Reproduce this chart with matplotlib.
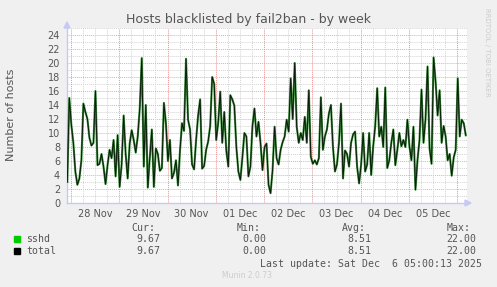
import numpy as np
import matplotlib
matplotlib.use("Agg")
import matplotlib.pyplot as plt

# ---------------- data ----------------
title = "Hosts blacklisted by fail2ban - by week"
ylabel = "Number of hosts"
day_labels = ["28 Nov", "29 Nov", "30 Nov", "01 Dec", "02 Dec", "03 Dec", "04 Dec", "05 Dec"]
start_hour = -25.8   # hours relative to 29 Nov 00:00
step_hours = 1.0
sshd = [
    3.0, 15.0, 11.2, 8.6, 4.5, 2.6, 3.5, 6.1, 14.2, 13.0,
    12.0, 9.3, 8.2, 8.6, 16.0, 5.4, 5.6, 7.0, 5.2, 2.7,
    5.4, 7.6, 6.4, 9.0, 3.8, 9.7, 2.3, 5.5, 12.5, 7.0,
    3.5, 8.5, 10.4, 9.0, 7.2, 9.5, 13.5, 20.7, 5.2, 14.0,
    2.2, 6.5, 10.5, 2.3, 7.8, 7.0, 4.6, 5.0, 14.3, 11.4,
    6.0, 9.0, 3.5, 4.3, 6.1, 2.5, 7.5, 11.4, 10.3, 20.6,
    11.9, 10.5, 5.5, 4.8, 9.0, 12.5, 14.8, 4.9, 5.3, 7.6,
    8.8, 11.0, 18.0, 17.0, 9.0, 11.5, 15.9, 8.6, 13.0, 7.5,
    5.2, 15.4, 14.8, 13.9, 8.0, 4.5, 3.3, 6.5, 10.0, 9.5,
    3.8, 5.2, 11.0, 13.5, 9.5, 11.6, 8.6, 4.7, 8.0, 8.5,
    2.6, 1.4, 4.7, 10.9, 6.4, 5.5, 7.6, 8.7, 9.5, 11.9,
    10.2, 17.8, 12.0, 20.0, 10.9, 8.6, 10.0, 9.0, 12.3, 8.6,
    16.1, 6.6, 5.6, 6.1, 5.5, 6.4, 15.1, 7.6, 9.5, 10.5,
    12.8, 14.0, 8.0, 4.5, 5.5, 8.6, 14.2, 3.5, 7.5, 7.0,
    5.2, 8.6, 9.8, 10.2, 5.2, 2.8, 5.5, 10.0, 4.5, 5.5,
    10.0, 4.0, 8.1, 11.0, 16.4, 9.5, 10.9, 8.0, 16.5, 5.0,
    6.1, 8.6, 10.5, 5.4, 7.6, 10.0, 8.1, 9.0, 8.0, 11.9,
    8.1, 6.1, 10.9, 1.9, 6.1, 9.0, 16.2, 8.6, 12.0, 19.5,
    7.8, 5.6, 20.8, 17.4, 12.5, 16.1, 8.6, 11.0, 9.5, 6.1,
    7.0, 3.9, 6.5, 7.6, 17.8, 9.5, 11.9, 11.4, 9.67,
]
total = list(sshd)
legend_names = ["sshd", "total"]
legend_cur = ["9.67", "9.67"]
legend_min = ["0.00", "0.00"]
legend_avg = ["8.51", "8.51"]
legend_max = ["22.00", "22.00"]
last_update = "Last update: Sat Dec  6 05:00:13 2025"
version = "Munin 2.0.73"
side_text = "RRDTOOL / TOBI OETIKER"

# ---------------- figure ----------------
W, H = 497, 287
fig = plt.figure(figsize=(W / 100, H / 100), dpi=100, facecolor="#f0f0f0")

def px(x, y):
    return x / W, 1 - y / H

L, R, T, B = 67, 467, 28, 203
ax = fig.add_axes([L / W, 1 - B / H, (R - L) / W, (B - T) / H])
ax.set_facecolor("white")

px_per_hour = 48.3 / 24.0
x0 = start_hour - (67.3 - L) / px_per_hour
x1 = x0 + (R - L) / px_per_hour
ax.set_xlim(x0, x1)
ax.set_ylim(0, 25)

t = start_hour + step_hours * np.arange(len(sshd))

# grid
dot = (0, (1.0, 1.0))
for yv in np.arange(1, 26, 1):
    col = "#f0a8a8" if yv % 2 == 0 else "#d4d4d4"
    ax.axhline(yv, color=col, lw=0.7, ls=dot, zorder=1)
for xv in np.arange(-24, 180, 6):
    col = "#f09090" if xv % 24 == 0 else "#d4d4d4"
    ax.axvline(xv, color=col, lw=0.7, ls=dot, zorder=1)

ax.plot(t, sshd, color="#3a8a3a", lw=1.5, zorder=3)
ax.plot(t, total, color="#0a1a0a", lw=0.7, zorder=4)

for s in ["top", "right"]:
    ax.spines[s].set_visible(False)
for s in ["left", "bottom"]:
    ax.spines[s].set_color("#c8c8f4")
    ax.spines[s].set_linewidth(1.0)

ax.set_yticks(np.arange(0, 25, 2))
ax.set_yticklabels([str(v) for v in range(0, 25, 2)])
ax.set_xticks(-12 + 24 * np.arange(len(day_labels)))
ax.set_xticklabels(day_labels)
ax.tick_params(length=0, labelsize=7, colors="#555555", pad=4)
ax.tick_params(axis="y", pad=5)

# arrows
fig.patches.append(matplotlib.patches.Polygon(
    [px(471, 203), px(465, 200), px(465, 206)], closed=True,
    transform=fig.transFigure, color="#c8c8f4", zorder=5))
fig.patches.append(matplotlib.patches.Polygon(
    [px(67, 22), px(64, 28), px(70, 28)], closed=True,
    transform=fig.transFigure, color="#c8c8f4", zorder=5))

# texts
fig.text(*px(249, 19), title, ha="center", va="center", fontsize=9, color="#555555")
fig.text(*px(11, 115), ylabel, ha="center", va="center", rotation=90, fontsize=8, color="#555555")
fig.text(*px(487, 52), side_text, ha="center", va="center", rotation=270, fontsize=5, color="#cccccc")

mono = dict(family="DejaVu Sans Mono", fontsize=7.1, color="#555555", va="center")
headers = ["Cur:", "Min:", "Avg:", "Max:"]
hx = [131, 237, 342, 447]
vx = [160.5, 266.7, 371.7, 476.7]
for h, x in zip(headers, hx):
    fig.text(*px(x, 228), h, ha="left", **mono)
cols = [legend_cur, legend_min, legend_avg, legend_max]
colors = ["#00cc00", "#000000"]
for i, (name, c) in enumerate(zip(legend_names, colors)):
    y = 239 + 12 * i
    fig.patches.append(matplotlib.patches.Rectangle(
        px(14, y + 3), 6 / W, 6 / H, transform=fig.transFigure, color=c))
    fig.text(*px(26.5, y), name, ha="left", **mono)
    for col, x in zip(cols, vx):
        fig.text(*px(x, y), col[i], ha="right", **mono)
fig.text(*px(482.5, 264), last_update, ha="right", **mono)
fig.text(*px(247, 276), version, ha="center", va="center", fontsize=5.5, color="#cccccc")

fig.savefig("out.png", dpi=100, facecolor=fig.get_facecolor())
